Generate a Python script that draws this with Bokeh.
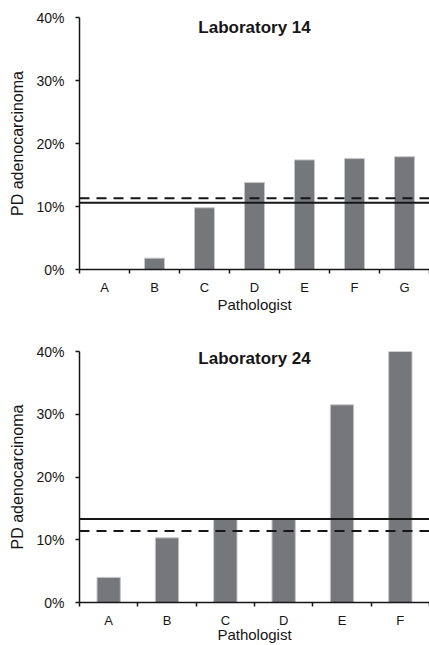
from bokeh.plotting import figure
from bokeh.models import Range1d, FixedTicker, NumeralTickFormatter, Span, Label
from bokeh.layouts import column
from bokeh.embed import file_html
from bokeh.resources import INLINE

# Proportion of poorly differentiated (PD) adenocarcinoma diagnosed per pathologist
lab14_pathologists = ["A", "B", "C", "D", "E", "F", "G"]
lab14_pd_pct = [0.0, 1.8, 9.8, 13.8, 17.4, 17.6, 17.9]
lab14_lab_rate_pct = 10.6       # laboratory rate (solid line)
lab14_overall_rate_pct = 11.3   # overall rate (dashed line)

lab24_pathologists = ["A", "B", "C", "D", "E", "F"]
lab24_pd_pct = [4.0, 10.3, 13.3, 13.3, 31.5, 40.0]
lab24_lab_rate_pct = 13.3
lab24_overall_rate_pct = 11.4

y_ticks_pct = [0, 10, 20, 30, 40]

FONT = "Liberation Sans"
INK = "#161616"
BAR_FILL = "#76777b"
BAR_EDGE = "#c6c6c8"


def panel(title, names, values_pct, lab_rate, overall_rate,
          height, border_top, border_bottom, title_y, xlabel_standoff):
    n = len(names)
    centers = [i + 0.5 for i in range(n)]
    p = figure(width=429, height=height,
               x_range=Range1d(0, n), y_range=Range1d(0, y_ticks_pct[-1] / 100),
               output_backend="svg", toolbar_location=None,
               min_border_left=79, min_border_right=0,
               min_border_top=border_top, min_border_bottom=border_bottom)
    p.outline_line_color = None
    p.grid.visible = False
    p.background_fill_color = "white"
    p.border_fill_color = "white"

    p.vbar(x=centers, top=[v / 100 for v in values_pct], width=0.4,
           fill_color=BAR_FILL, line_color=BAR_EDGE, line_width=1)

    p.add_layout(Span(location=overall_rate / 100, dimension="width",
                      line_color=INK, line_width=2, line_dash="10 7"))
    p.add_layout(Span(location=lab_rate / 100, dimension="width",
                      line_color=INK, line_width=2))

    # x axis: letters at category centres, tick marks at category boundaries
    xa = p.xaxis[0]
    xa.ticker = FixedTicker(ticks=centers, minor_ticks=list(range(n + 1)))
    xa.major_label_overrides = {c: name for c, name in zip(centers, names)}
    xa.major_tick_out = 0
    xa.major_tick_in = 0
    xa.minor_tick_out = 4
    xa.minor_tick_in = 0
    xa.minor_tick_line_color = INK
    xa.minor_tick_line_width = 1.5
    xa.axis_line_color = INK
    xa.axis_line_width = 1.5
    xa.major_label_standoff = 6
    xa.major_label_text_font = FONT
    xa.major_label_text_font_size = "13px"
    xa.major_label_text_color = INK
    xa.axis_label = "Pathologist"
    xa.axis_label_text_font = FONT
    xa.axis_label_text_font_size = "15px"
    xa.axis_label_text_font_style = "normal"
    xa.axis_label_text_color = INK
    xa.axis_label_standoff = xlabel_standoff

    ya = p.yaxis[0]
    ya.ticker = FixedTicker(ticks=[t / 100 for t in y_ticks_pct])
    ya.formatter = NumeralTickFormatter(format="0%")
    ya.major_tick_out = 4
    ya.major_tick_in = 0
    ya.major_tick_line_color = INK
    ya.major_tick_line_width = 1.5
    ya.minor_tick_line_color = None
    ya.axis_line_color = INK
    ya.axis_line_width = 1.5
    ya.major_label_standoff = 11
    ya.major_label_text_font = FONT
    ya.major_label_text_font_size = "14px"
    ya.major_label_text_color = INK
    ya.axis_label = "PD adenocarcinoma"
    ya.axis_label_text_font = FONT
    ya.axis_label_text_font_size = "16px"
    ya.axis_label_text_font_style = "normal"
    ya.axis_label_text_color = INK
    ya.axis_label_standoff = 7

    p.add_layout(Label(x=n / 2, y=title_y, x_units="data", y_units="screen",
                       text=title, text_align="center", text_baseline="middle",
                       text_font=FONT, text_font_size="17px", text_font_style="bold",
                       text_color=INK))
    return p


top = panel("Laboratory 14", lab14_pathologists, lab14_pd_pct,
            lab14_lab_rate_pct, lab14_overall_rate_pct,
            height=315, border_top=17, border_bottom=46, title_y=242, xlabel_standoff=-2)
bottom = panel("Laboratory 24", lab24_pathologists, lab24_pd_pct,
               lab24_lab_rate_pct, lab24_overall_rate_pct,
               height=330, border_top=36, border_bottom=42, title_y=244, xlabel_standoff=-5)

layout = column(top, bottom, spacing=0)
open("out.html", "w").write(file_html(layout, INLINE))
